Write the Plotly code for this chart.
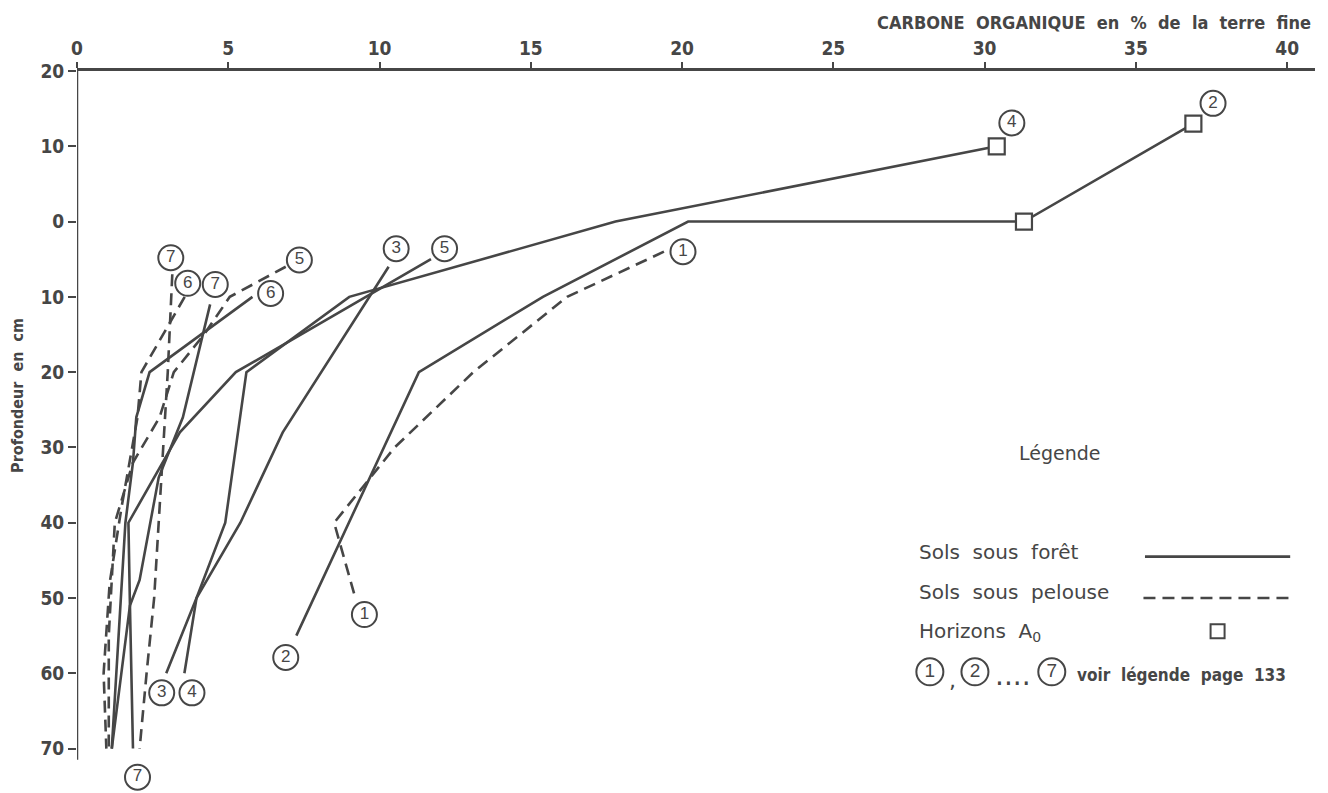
import plotly.graph_objects as go

# ---------------- data (carbone organique %, profondeur cm; negative = above surface) ----------------
# Sols sous forêt (solid)
f2_c = [36.9, 31.3, 20.2, 15.4, 11.3, 7.25]
f2_d = [-13, 0, 0, 10, 20, 55]
f3_c = [10.3, 6.8, 5.4, 3.95, 2.95]
f3_d = [6, 28, 40, 50, 60]
f4_c = [30.4, 17.8, 9.0, 5.6, 4.9, 3.95, 3.55]
f4_d = [-10, 0, 10, 20, 40, 50, 60]
f5_c = [11.7, 5.25, 3.4, 1.7, 1.75, 1.85]
f5_d = [5, 20, 28, 40, 51, 70]
f6_c = [5.8, 2.4, 1.96, 1.85, 1.6, 1.15]
f6_d = [10, 20, 26, 32, 40, 70]
f7_c = [4.4, 3.85, 3.5, 2.7, 2.07, 1.75, 1.15]
f7_d = [11, 20, 26, 34, 47.6, 51, 70]

# Sols sous pelouse (dashed)
p1_c = [19.4, 16.2, 13.1, 10.5, 8.5, 9.2]
p1_d = [4, 10, 20, 30, 40, 50]
p5_c = [6.9, 5.05, 4.2, 3.2, 2.73, 1.85, 1.25, 1.05, 1.05]
p5_d = [6, 10, 15, 20, 26, 32, 40, 55, 70]
p6_c = [3.56, 2.13, 2.0, 1.74, 1.47, 1.08, 0.88, 0.97]
p6_d = [10, 20, 26, 32, 38, 48, 60, 70]
p7_c = [3.15, 3.0, 2.85, 2.7, 2.55, 2.3, 2.07]
p7_d = [7, 20, 30, 40, 50, 60, 70]

# Horizons A0
a0_c = [36.9, 31.3, 30.4]
a0_d = [-13, 0, -10]

x_ticks = [0, 5, 10, 15, 20, 25, 30, 35, 40]
y_ticks = [-20, -10, 0, 10, 20, 30, 40, 50, 60, 70]
y_ticktext = ["20", "10", "0", "10", "20", "30", "40", "50", "60", "70"]

INK = "#464646"
LW = 2.6
DASH = "12px,7px"

forest = [(f2_c, f2_d), (f3_c, f3_d), (f4_c, f4_d), (f5_c, f5_d), (f6_c, f6_d), (f7_c, f7_d)]
pelouse = [(p1_c, p1_d), (p5_c, p5_d), (p6_c, p6_d), (p7_c, p7_d)]

# circled labels: text, anchor point on a curve end, offset (carbon units, cm)
end_labels = [
    ("1", p1_c[0], p1_d[0], 0.63, 0.0),
    ("1", p1_c[-1], p1_d[-1], 0.3, 2.2),
    ("2", f2_c[0], f2_d[0], 0.65, -2.7),
    ("2", f2_c[-1], f2_d[-1], -0.35, 2.9),
    ("3", f3_c[0], f3_d[0], 0.25, -2.4),
    ("3", f3_c[-1], f3_d[-1], -0.15, 2.6),
    ("4", f4_c[0], f4_d[0], 0.5, -3.1),
    ("4", f4_c[-1], f4_d[-1], 0.25, 2.6),
    ("5", f5_c[0], f5_d[0], 0.45, -1.4),
    ("5", p5_c[0], p5_d[0], 0.45, -0.9),
    ("6", p6_c[0], p6_d[0], 0.1, -1.8),
    ("6", f6_c[0], f6_d[0], 0.6, -0.45),
    ("7", p7_c[0], p7_d[0], -0.05, -2.2),
    ("7", f7_c[0], f7_d[0], 0.17, -2.65),
    ("7", p7_c[-1], p7_d[-1], -0.07, 3.8),
]

fig = go.Figure()

# y axis line (stops just below 70, like the original)
fig.add_shape(type="line", xref="x", yref="y", x0=0, x1=0, y0=-20, y1=71.5,
              line=dict(color=INK, width=2.5), layer="above")

for c, d in forest:
    fig.add_trace(go.Scatter(x=c, y=d, mode="lines", line=dict(color=INK, width=LW),
                             showlegend=False, hoverinfo="skip"))
for c, d in pelouse:
    fig.add_trace(go.Scatter(x=c, y=d, mode="lines", line=dict(color=INK, width=LW, dash=DASH),
                             showlegend=False, hoverinfo="skip"))

fig.add_trace(go.Scatter(x=a0_c, y=a0_d, mode="markers",
                         marker=dict(symbol="square", size=16, color="white",
                                     line=dict(color=INK, width=2.2)),
                         showlegend=False, hoverinfo="skip"))

LABEL_FONT = dict(family="Liberation Sans, Arial, sans-serif", size=17, color=INK)
fig.add_trace(go.Scatter(
    x=[l[1] + l[3] for l in end_labels],
    y=[l[2] + l[4] for l in end_labels],
    text=[l[0] for l in end_labels],
    mode="markers+text", textposition="middle center",
    marker=dict(symbol="circle", size=25, color="white", line=dict(color=INK, width=2)),
    textfont=LABEL_FONT, cliponaxis=False, showlegend=False, hoverinfo="skip"))

# ---------------- legend (drawn in data coordinates) ----------------
LEG_FONT = dict(family="DejaVu Sans, sans-serif", size=20, color=INK)
leg_rows = [("Sols  sous  forêt", 43.9), ("Sols  sous  pelouse", 49.2), ("Horizons  A<sub>0</sub>", 54.5)]
fig.add_annotation(x=32.49, y=30.7, text="Légende", showarrow=False,
                   font=dict(family="DejaVu Sans, sans-serif", size=19, color=INK),
                   xanchor="center", yanchor="middle")
for txt, yy in leg_rows:
    fig.add_annotation(x=27.76, y=yy, text=txt, showarrow=False, font=LEG_FONT,
                       xanchor="left", yanchor="middle")
fig.add_trace(go.Scatter(x=[35.3, 40.1], y=[44.5, 44.5], mode="lines",
                         line=dict(color=INK, width=LW), showlegend=False, hoverinfo="skip"))
fig.add_trace(go.Scatter(x=[35.25, 40.1], y=[50.0, 50.0], mode="lines",
                         line=dict(color=INK, width=LW, dash=DASH), showlegend=False, hoverinfo="skip"))
fig.add_trace(go.Scatter(x=[37.7], y=[54.4], mode="markers",
                         marker=dict(symbol="square", size=14, color="white", line=dict(color=INK, width=2)),
                         showlegend=False, hoverinfo="skip"))
fig.add_trace(go.Scatter(x=[28.19, 29.68, 32.22], y=[59.8, 59.8, 59.8], text=["1", "2", "7"],
                         mode="markers+text", textposition="middle center",
                         marker=dict(symbol="circle", size=27, color="white", line=dict(color=INK, width=2)),
                         textfont=dict(family="Liberation Sans, Arial, sans-serif", size=19, color=INK),
                         showlegend=False, hoverinfo="skip"))
fig.add_annotation(x=28.95, y=60.9, text=",", showarrow=False, font=dict(family="DejaVu Sans", size=22, color=INK))
fig.add_annotation(x=30.95, y=60.3, text="....", showarrow=False, font=dict(family="DejaVu Sans", size=28, color=INK))
fig.add_annotation(x=32.98, y=60.2, text="<b>voir  légende  page  133</b>", showarrow=False,
                   xanchor="left", yanchor="middle",
                   font=dict(family="Liberation Sans Narrow, DejaVu Sans Condensed, sans-serif", size=17, color=INK))

# ---------------- axis titles ----------------
fig.add_annotation(xref="paper", yref="paper", x=1.0, xshift=-2, y=1.0, yshift=49, xanchor="right", yanchor="middle",
                   text="<b>CARBONE  ORGANIQUE  en  %  de  la  terre  fine</b>", showarrow=False,
                   font=dict(family="Liberation Sans Narrow, DejaVu Sans Condensed, sans-serif", size=18, color=INK))
fig.add_annotation(xref="paper", yref="paper", x=0, xshift=-59, y=0.55, textangle=-90,
                   text="<b>Profondeur  en  cm</b>", showarrow=False, xanchor="center", yanchor="middle",
                   font=dict(family="Liberation Sans Narrow, DejaVu Sans Condensed, sans-serif", size=16, color=INK))

TICK_FONT = dict(family="Liberation Sans Narrow, DejaVu Sans Condensed, sans-serif", size=19, color=INK, weight="bold")
fig.update_xaxes(side="top", range=[0, 40.92], tickvals=x_ticks, showline=True, linecolor=INK, linewidth=2.5,
                 ticks="outside", ticklen=6, tickwidth=2, tickcolor=INK, showgrid=False, zeroline=False,
                 tickfont=TICK_FONT)
fig.update_yaxes(range=[75.9, -20], tickvals=y_ticks, ticktext=y_ticktext, showline=False,
                 ticks="outside", ticklen=8, tickwidth=2, tickcolor=INK, showgrid=False,
                 zeroline=False, tickfont=TICK_FONT)

fig.update_layout(width=1328, height=793, margin=dict(l=77, r=13, t=71, b=0),
                  paper_bgcolor="white", plot_bgcolor="white")

fig.write_html("out.html")
